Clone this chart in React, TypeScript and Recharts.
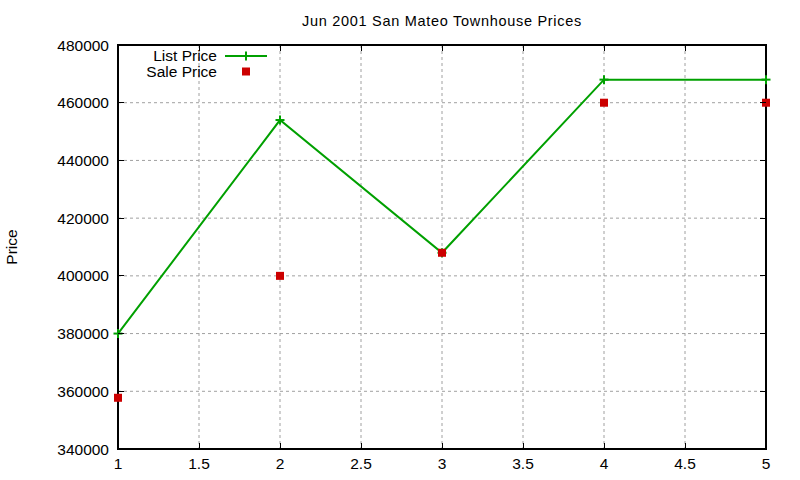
import { LineChart, Line, XAxis, YAxis, CartesianGrid, ReferenceArea } from "recharts";

const days = [1, 2, 3, 4, 5];
const listPrice = [380000, 454000, 408000, 468000, 468000];
const salePrice = [357750, 400000, 408000, 460000, 460000];
const xTicks = [1, 1.5, 2, 2.5, 3, 3.5, 4, 4.5, 5];
const yTicks = [340000, 360000, 380000, 400000, 420000, 440000, 460000, 480000];

const data = days.map((d, i) => ({ day: d, list: listPrice[i], sale: salePrice[i] }));

const FONT = "'Liberation Sans', Arial, sans-serif";
const GREEN = "#00a000";
const RED = "#cc0000";
const TICK = 6;
const LABEL_SIZE = 15.5;
// plot box edges (match the chart margins), used for the mirrored tics
const PLOT_TOP = 45;
const PLOT_RIGHT = 766;

const BottomTick = ({ x, y, payload }: any) => (
  <g shapeRendering="crispEdges">
    <line x1={x} x2={x} y1={y} y2={y - TICK} stroke="#000" />
    <line x1={x} x2={x} y1={PLOT_TOP} y2={PLOT_TOP + TICK} stroke="#000" />
    <text x={x} y={y + 20} textAnchor="middle" fontSize={LABEL_SIZE} fontFamily={FONT} fill="#000">
      {payload.value}
    </text>
  </g>
);

const LeftTick = ({ x, y, payload }: any) => (
  <g shapeRendering="crispEdges">
    <line x1={x} x2={x + TICK} y1={y} y2={y} stroke="#000" />
    <line x1={PLOT_RIGHT} x2={PLOT_RIGHT - TICK} y1={y} y2={y} stroke="#000" />
    <text x={x - 9} y={y + 5.5} textAnchor="end" fontSize={LABEL_SIZE} fontFamily={FONT} fill="#000">
      {payload.value}
    </text>
  </g>
);

const PlusDot = ({ cx, cy }: any) => (
  <g>
    <line x1={cx - 4.5} x2={cx + 4.5} y1={cy} y2={cy} stroke={GREEN} strokeWidth={2} />
    <line x1={cx} x2={cx} y1={cy - 4.5} y2={cy + 4.5} stroke={GREEN} strokeWidth={2} />
  </g>
);

const SquareDot = ({ cx, cy }: any) => <rect x={cx - 4} y={cy - 4} width={8} height={8} fill={RED} />;

export default function App() {
  return (
    <div style={{ position: "absolute", left: 0, top: 0, width: 800, height: 480, background: "#fff" }}>
      <LineChart width={800} height={480} data={data} margin={{ top: PLOT_TOP, right: 800 - PLOT_RIGHT, bottom: 0, left: 0 }}>
        <CartesianGrid stroke="#a0a0a0" strokeDasharray="3 3" />
        <ReferenceArea
          x1={1}
          x2={5}
          y1={340000}
          y2={480000}
          fill="none"
          fillOpacity={0}
          stroke="#000"
          strokeWidth={1.2}
          strokeOpacity={1}
          shapeRendering="crispEdges"
          ifOverflow="visible"
        />
        <XAxis
          dataKey="day"
          type="number"
          domain={[1, 5]}
          ticks={xTicks}
          interval={0}
          height={31}
          tickSize={0}
          tickMargin={0}
          tickLine={false}
          axisLine={{ stroke: "#000" }}
          tick={<BottomTick />}
        />
        <YAxis
          type="number"
          domain={[340000, 480000]}
          ticks={yTicks}
          interval={0}
          width={118}
          tickSize={0}
          tickMargin={0}
          tickLine={false}
          axisLine={{ stroke: "#000" }}
          tick={<LeftTick />}
        />
        <Line
          type="linear"
          dataKey="list"
          stroke={GREEN}
          strokeWidth={2}
          dot={<PlusDot />}
          activeDot={false}
          isAnimationActive={false}
        />
        <Line
          type="linear"
          dataKey="sale"
          stroke="none"
          dot={<SquareDot />}
          activeDot={false}
          isAnimationActive={false}
        />
      </LineChart>
      <svg
        width={800}
        height={480}
        style={{ position: "absolute", left: 0, top: 0, pointerEvents: "none" }}
        fontFamily={FONT}
      >
        <text x={442} y={26} textAnchor="middle" fontSize={14.5} letterSpacing={0.7} fill="#000">
          Jun 2001 San Mateo Townhouse Prices
        </text>
        <text x={0} y={0} transform="translate(17,247) rotate(-90)" textAnchor="middle" fontSize={LABEL_SIZE} fill="#000">
          Price
        </text>
        <text x={217} y={61} textAnchor="end" fontSize={LABEL_SIZE} fill="#000">
          List Price
        </text>
        <line x1={225} x2={267} y1={56} y2={56} stroke={GREEN} strokeWidth={2} />
        <line x1={246} x2={246} y1={51.5} y2={60.5} stroke={GREEN} strokeWidth={2} />
        <text x={217} y={76.5} textAnchor="end" fontSize={LABEL_SIZE} fill="#000">
          Sale Price
        </text>
        <rect x={242} y={67.5} width={8} height={8} fill={RED} />
      </svg>
    </div>
  );
}
